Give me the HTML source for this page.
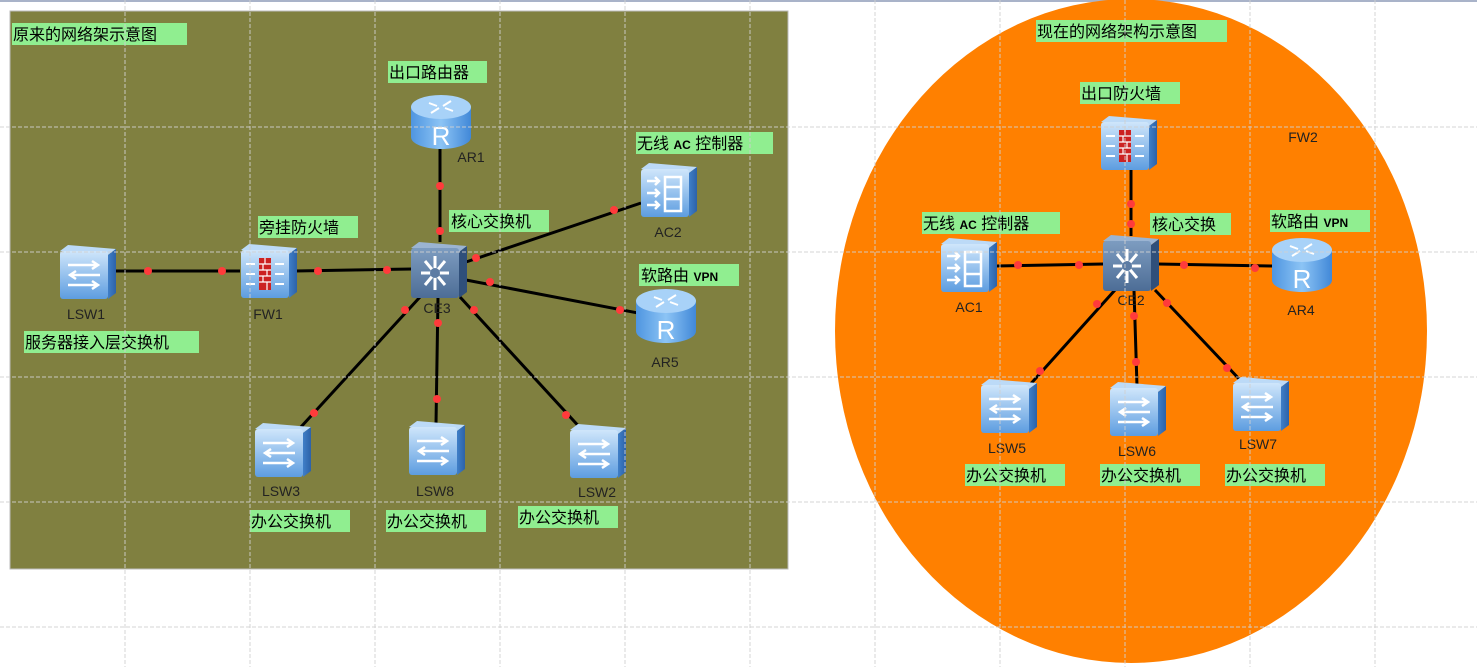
<!DOCTYPE html>
<html><head><meta charset="utf-8"><style>
html,body{margin:0;padding:0;background:#fff;}
svg{display:block;}
.t{font-family:"Liberation Sans","Noto Sans CJK SC",sans-serif;font-size:16px;fill:#000;}
.n{font-family:"Liberation Sans",sans-serif;font-size:14px;fill:#222;}
.v{font-family:"Liberation Sans",sans-serif;font-size:12px;font-weight:bold;fill:#000;}
</style></head><body>
<svg width="1477" height="667" viewBox="0 0 1477 667" xmlns="http://www.w3.org/2000/svg">
<defs>
<linearGradient id="fr" x1="0" y1="0" x2="0" y2="1"><stop offset="0" stop-color="#cfe6fb"/><stop offset="1" stop-color="#5d9de0"/></linearGradient>
<linearGradient id="sd" x1="0" y1="0" x2="1" y2="0"><stop offset="0" stop-color="#3f7fc8"/><stop offset="1" stop-color="#2d62a8"/></linearGradient>
<linearGradient id="ce" x1="0" y1="0" x2="0" y2="1"><stop offset="0" stop-color="#7d9cc0"/><stop offset="1" stop-color="#4d6d96"/></linearGradient>
<linearGradient id="cy" x1="0" y1="0" x2="1" y2="0"><stop offset="0" stop-color="#4f95e0"/><stop offset="0.5" stop-color="#8cc4f5"/><stop offset="1" stop-color="#4188d8"/></linearGradient>
<g id="box">
<polygon points="0,6 8,0 56,4 48,10" fill="#bcdaf7"/>
<polygon points="48,10 56,4 56,48 48,54" fill="url(#sd)"/>
<rect x="0" y="6" width="48" height="48" rx="3" fill="url(#fr)"/>
</g>
<g id="sw"><use href="#box"/>
<g stroke="#fff" stroke-width="2.5" fill="none"><path d="M8 20h30M32 16l6 4-6 4"/><path d="M40 30H10M16 26l-6 4 6 4"/><path d="M8 40h30M32 36l6 4-6 4"/></g></g>
<g id="fw"><use href="#box"/>
<rect x="18" y="14" width="12" height="32" fill="#c22"/>
<g stroke="#fff" stroke-width="1.2"><path d="M18 20h12M18 26h12M18 32h12M18 38h12M24 14v6M22 20v6M26 26v6M22 32v6M26 38v8"/></g>
<g stroke="#fff" stroke-width="2" fill="none"><path d="M5 20h9M5 30h9M5 40h9M34 20h9M34 30h9M34 40h9"/></g></g>
<g id="ac"><use href="#box"/>
<g stroke="#fff" stroke-width="2.5" fill="none"><path d="M6 18h12M6 30h12M6 42h12M14 14l4 4-4 4M14 26l4 4-4 4M14 38l4 4-4 4"/><rect x="24" y="14" width="16" height="34"/><path d="M24 24h16M24 36h16"/></g></g>
<g id="cs">
<polygon points="0,6 8,0 56,4 48,10" fill="#9bb4d2"/>
<polygon points="48,10 56,4 56,50 48,56" fill="#2f4f7a"/>
<rect x="0" y="6" width="48" height="50" rx="3" fill="url(#ce)"/>
<g stroke="#fff" stroke-width="3" fill="none"><path d="M24 14v34M10 31h28M14 19l20 24M34 19l-20 24"/></g>
<circle cx="24" cy="31" r="5" fill="#5d7ca4"/></g>
<g id="rt">
<path d="M0 12v30c0 7 14 12 30 12s30-5 30-12V12z" fill="url(#cy)"/>
<ellipse cx="30" cy="12" rx="30" ry="12" fill="#a8d2f8"/>
<g stroke="#fff" stroke-width="2" fill="none"><path d="M18 8l8 3M42 16l-8-3M40 6l-8 5M20 18l8-5"/></g>
<text x="30" y="50" text-anchor="middle" font-family="Liberation Sans,sans-serif" font-size="26" fill="#fff">R</text></g>
</defs>

<rect x="0" y="0" width="1477" height="2" fill="#a9b3c9"/>
<rect x="10" y="11" width="778" height="558" fill="#808040" stroke="#bbb" stroke-width="1"/>
<ellipse cx="1131" cy="331" rx="296" ry="332" fill="#ff8000"/>

<g stroke="#000" stroke-width="3" fill="none">
<path d="M115 271L240 271"/><path d="M295 271L412 269"/>
<path d="M440 148V242"/><path d="M466 262L641 203"/><path d="M466 280L638 313"/>
<path d="M420 297L300 428"/><path d="M438 297L436 424"/><path d="M460 297L584 432"/>
<path d="M1131 168V236"/><path d="M995 266L1103 264"/><path d="M1158 264L1273 266"/>
<path d="M1115 290L1027 388"/><path d="M1134 290L1137 386"/><path d="M1155 290L1242 382"/>
</g>
<g fill="#ff3b3b">
<circle cx="148" cy="271" r="4"/><circle cx="222" cy="271" r="4"/><circle cx="318" cy="271" r="4"/><circle cx="387" cy="270" r="4"/>
<circle cx="440" cy="186" r="4"/><circle cx="440" cy="231" r="4"/><circle cx="476" cy="258" r="4"/><circle cx="614" cy="210" r="4"/>
<circle cx="490" cy="282" r="4"/><circle cx="620" cy="310" r="4"/><circle cx="405" cy="310" r="4"/><circle cx="314" cy="413" r="4"/>
<circle cx="438" cy="323" r="4"/><circle cx="437" cy="399" r="4"/><circle cx="474" cy="310" r="4"/><circle cx="566" cy="415" r="4"/>
<circle cx="1131" cy="204" r="4"/><circle cx="1131" cy="224" r="4"/><circle cx="1018" cy="265" r="4"/><circle cx="1079" cy="265" r="4"/>
<circle cx="1184" cy="265" r="4"/><circle cx="1255" cy="268" r="4"/><circle cx="1097" cy="304" r="4"/><circle cx="1040" cy="371" r="4"/>
<circle cx="1134" cy="316" r="4"/><circle cx="1136" cy="362" r="4"/><circle cx="1167" cy="303" r="4"/><circle cx="1227" cy="368" r="4"/>
</g>

<use href="#sw" x="60" y="245"/><use href="#fw" x="241" y="244"/><use href="#cs" x="411" y="242"/>
<use href="#rt" x="411" y="95"/><use href="#ac" x="641" y="163"/><use href="#rt" x="636" y="289"/>
<use href="#sw" x="255" y="423"/><use href="#sw" x="409" y="421"/><use href="#sw" x="570" y="424"/>
<use href="#fw" x="1101" y="116"/><use href="#cs" x="1103" y="235"/><use href="#ac" x="941" y="238"/>
<use href="#rt" x="1272" y="238"/><use href="#sw" x="981" y="379"/><use href="#sw" x="1110" y="382"/><use href="#sw" x="1233" y="377"/>

<g fill="#90ee90">
<rect x="12" y="23" width="175" height="22"/><rect x="388" y="61" width="99" height="22"/>
<rect x="636" y="132" width="137" height="22"/><rect x="449" y="210" width="100" height="22"/>
<rect x="258" y="216" width="100" height="22"/><rect x="639" y="264" width="100" height="22"/>
<rect x="24" y="331" width="175" height="22"/>
<rect x="250" y="510" width="100" height="22"/><rect x="386" y="510" width="100" height="22"/><rect x="518" y="506" width="100" height="22"/>
<rect x="1036" y="20" width="191" height="22"/><rect x="1080" y="82" width="100" height="22"/>
<rect x="922" y="212" width="138" height="22"/><rect x="1150" y="213" width="81" height="22"/><rect x="1270" y="210" width="100" height="22"/>
<rect x="965" y="464" width="100" height="22"/><rect x="1100" y="464" width="100" height="22"/><rect x="1225" y="464" width="100" height="22"/>
</g>
<g class="t">
<text x="13" y="40">原来的网络架示意图</text><text x="389" y="78">出口路由器</text>
<text x="637" y="149">无线 <tspan class="v">AC</tspan> 控制器</text><text x="451" y="227">核心交换机</text>
<text x="259" y="233">旁挂防火墙</text><text x="641" y="281">软路由 <tspan class="v">VPN</tspan></text>
<text x="25" y="348">服务器接入层交换机</text>
<text x="251" y="527">办公交换机</text><text x="387" y="527">办公交换机</text><text x="519" y="523">办公交换机</text>
<text x="1037" y="37">现在的网络架构示意图</text><text x="1081" y="99">出口防火墙</text>
<text x="923" y="229">无线 <tspan class="v">AC</tspan> 控制器</text><text x="1152" y="230">核心交换</text>
<text x="1271" y="227">软路由 <tspan class="v">VPN</tspan></text>
<text x="966" y="481">办公交换机</text><text x="1101" y="481">办公交换机</text><text x="1226" y="481">办公交换机</text>
</g>
<g class="n" text-anchor="middle">
<text x="86" y="319">LSW1</text><text x="268" y="319">FW1</text><text x="437" y="313">CE3</text>
<text x="471" y="162">AR1</text><text x="668" y="237">AC2</text><text x="665" y="367">AR5</text>
<text x="281" y="496">LSW3</text><text x="435" y="496">LSW8</text><text x="597" y="497">LSW2</text>
<text x="1303" y="142">FW2</text><text x="969" y="312">AC1</text><text x="1131" y="305">CE2</text><text x="1301" y="315">AR4</text>
<text x="1007" y="453">LSW5</text><text x="1137" y="456">LSW6</text><text x="1258" y="449">LSW7</text>
</g>

<g stroke="#d0d0d0" stroke-width="1" stroke-dasharray="4,2" opacity="0.9">
<path d="M125 0V667M250 0V667M375 0V667M500 0V667M625 0V667M750 0V667M875 0V667M1000 0V667M1125 0V667M1250 0V667M1375 0V667"/>
<path d="M0 127H1477M0 252H1477M0 377H1477M0 502H1477M0 627H1477"/>
</g>
</svg>
</body></html>
